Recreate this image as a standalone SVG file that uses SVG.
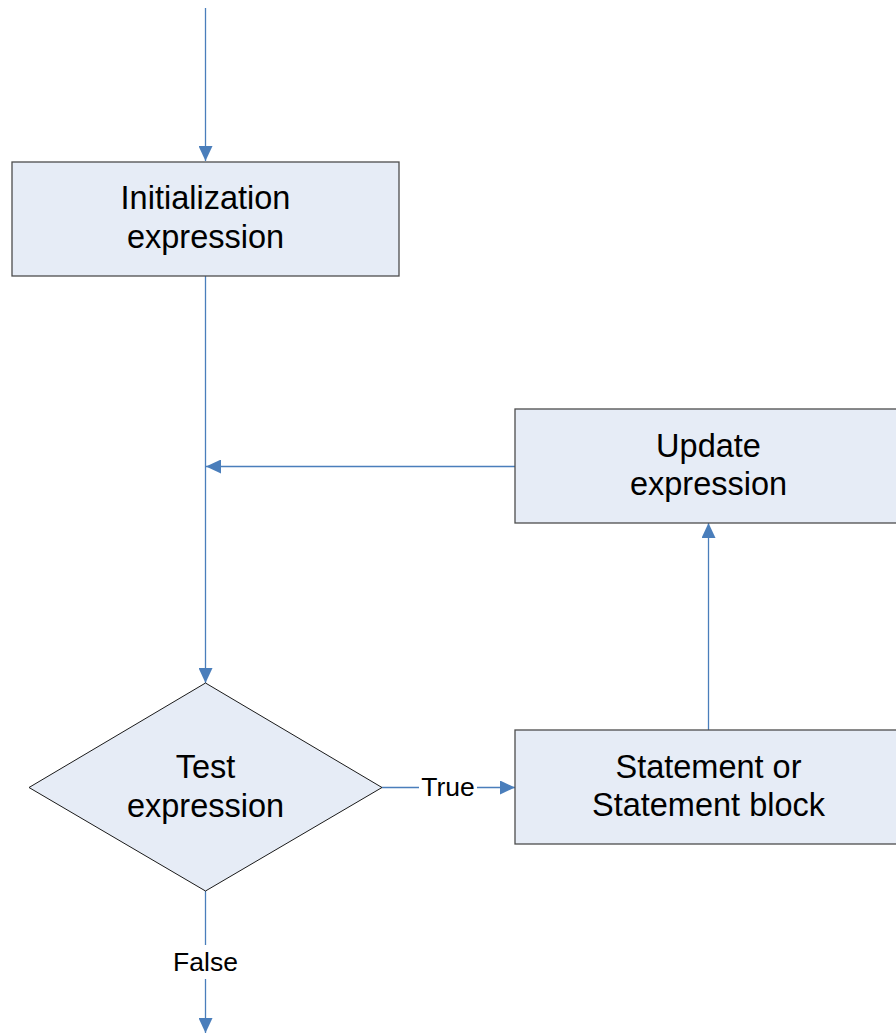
<svg xmlns="http://www.w3.org/2000/svg" width="896" height="1034" viewBox="0 0 896 1034">
  <style>
    .box { fill: #e6ecf6; stroke: #4d4d4d; stroke-width: 1.3; }
    .dia { fill: #e6ecf6; stroke: #1a1a1a; stroke-width: 1; }
    .lbl { font-family: "Liberation Sans", Arial, sans-serif; font-size: 32.5px; fill: #000; text-anchor: middle; }
    .edge { font-family: "Liberation Sans", Arial, sans-serif; font-size: 26.5px; fill: #000; text-anchor: middle; }
    .wire { stroke: #4a7ebb; stroke-width: 1.3; fill: none; }
  </style>
  <defs>
    <marker id="arrow" viewBox="0 0 15 14" refX="15" refY="7" markerWidth="15" markerHeight="14" markerUnits="userSpaceOnUse" orient="auto">
      <path d="M0,0 L15,7 L0,14 Z" fill="#4a7ebb"/>
    </marker>
  </defs>
  <rect width="896" height="1034" fill="#fff"/>

  <g id="connectors">
    <line class="wire" x1="205.5" y1="8" x2="205.5" y2="161" marker-end="url(#arrow)"/>
    <line class="wire" x1="205.5" y1="276" x2="205.5" y2="683" marker-end="url(#arrow)"/>
    <line class="wire" x1="515" y1="466.5" x2="206" y2="466.5" marker-end="url(#arrow)"/>
    <line class="wire" x1="708.5" y1="730" x2="708.5" y2="523" marker-end="url(#arrow)"/>
    <line class="wire" x1="382" y1="787.5" x2="419" y2="787.5"/>
    <line class="wire" x1="477" y1="787.5" x2="515" y2="787.5" marker-end="url(#arrow)"/>
    <text class="edge" x="448" y="796">True</text>
    <line class="wire" x1="205.5" y1="891" x2="205.5" y2="945"/>
    <line class="wire" x1="205.5" y1="979" x2="205.5" y2="1033" marker-end="url(#arrow)"/>
    <text class="edge" x="205.5" y="971">False</text>
  </g>

  <g id="init">
    <rect class="box" x="12" y="162" width="387" height="114"/>
    <text class="lbl" x="205.5" y="209">Initialization</text>
    <text class="lbl" x="205.5" y="248">expression</text>
  </g>

  <g id="update">
    <rect class="box" x="515" y="409" width="390" height="114"/>
    <text class="lbl" x="708.5" y="457">Update</text>
    <text class="lbl" x="708.5" y="495">expression</text>
  </g>

  <g id="test">
    <polygon class="dia" points="205.5,683 382,787.5 205.5,891 29,787.5"/>
    <text class="lbl" x="205.5" y="778">Test</text>
    <text class="lbl" x="205.5" y="817">expression</text>
  </g>

  <g id="statement">
    <rect class="box" x="515" y="730" width="390" height="114"/>
    <text class="lbl" x="708.5" y="778">Statement or</text>
    <text class="lbl" x="708.5" y="816">Statement block</text>
  </g>
</svg>
